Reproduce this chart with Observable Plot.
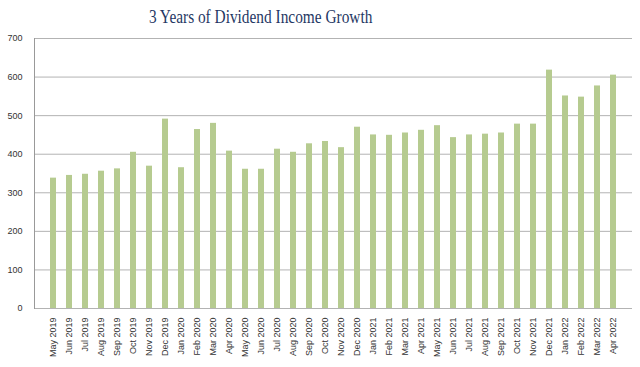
<!DOCTYPE html>
<html><head><meta charset="utf-8">
<script src="https://cdn.jsdelivr.net/npm/d3@7"></script>
<script src="https://cdn.jsdelivr.net/npm/@observablehq/plot@0.6"></script>
<style>
body{margin:0;background:#fff;}
#title{width:522px;height:28px;line-height:34px;text-align:center;font-family:"Liberation Serif","DejaVu Serif",serif;font-size:18.5px;color:#1F3864;}
#title span{display:inline-block;transform:scaleX(0.83);transform-origin:center;}
</style>
</head><body>
<div id="title"><span>3 Years of Dividend Income Growth</span></div>
<div id="chart"></div>
<script>
const months = ["May 2019","Jun 2019","Jul 2019","Aug 2019","Sep 2019","Oct 2019","Nov 2019","Dec 2019",
"Jan 2020","Feb 2020","Mar 2020","Apr 2020","May 2020","Jun 2020","Jul 2020","Aug 2020","Sep 2020","Oct 2020","Nov 2020","Dec 2020",
"Jan 2021","Feb 2021","Mar 2021","Apr 2021","May 2021","Jun 2021","Jul 2021","Aug 2021","Sep 2021","Oct 2021","Nov 2021","Dec 2021",
"Jan 2022","Feb 2022","Mar 2022","Apr 2022"];
const income = [338,345,348,356,362,405,369,491,365,464,480,408,361,361,413,405,427,433,417,470,
450,449,455,462,474,443,450,452,455,478,478,618,551,548,577,605];
const yTicks = [0,100,200,300,400,500,600,700];
const data = months.map((m,i)=>({month:m, value:income[i]}));

const chart = Plot.plot({
  width: 640, height: 339,
  marginTop: 10, marginBottom: 59, marginLeft: 34, marginRight: 8,
  style: {fontFamily: "'Liberation Sans', Arial, sans-serif", fontSize: "9px", color: "#333", background: "#fff"},
  x: {domain: months, padding: 0.6, label: null},
  y: {domain: [0,700], label: null},
  marks: [
    Plot.ruleY(yTicks, {stroke: "#b3b3b3", strokeWidth: 1}),
    Plot.barY(data, {x: "month", y: "value", fill: "#B6CB90"}),
    Plot.axisY({ticks: yTicks, tickSize: 0, tickPadding: 12, label: null}),
    Plot.axisX({tickSize: 0, tickRotate: -90, tickPadding: 9, label: null}),
    Plot.frame({anchor: "left", stroke: "#999"})
  ]
});
document.getElementById("chart").appendChild(chart);
</script>
</body></html>
